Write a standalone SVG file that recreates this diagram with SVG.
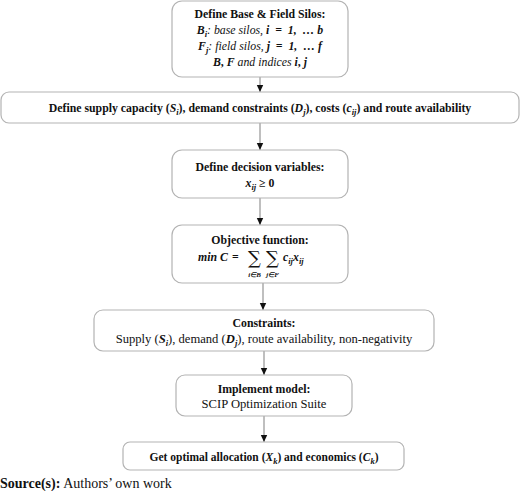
<svg xmlns="http://www.w3.org/2000/svg" width="520" height="491" viewBox="0 0 520 491">
<defs>
<marker id="ah" markerWidth="8" markerHeight="8" refX="7" refY="4" orient="auto" markerUnits="userSpaceOnUse">
<path d="M0,0.8 L7,4 L0,7.2 Z" fill="#111"/>
</marker>
<style>
.box{fill:#fff;stroke:#b3b3b3;stroke-width:1.2}
.t{font-family:"Liberation Serif",serif;font-size:11.8px;fill:#111;text-anchor:middle}
.r{font-size:12.6px}
.b{font-weight:bold}
.it{font-style:italic}
.mb{font-style:italic;font-weight:bold}
.sub{font-size:8.5px;font-style:italic;font-weight:bold}
.ss{font-size:7px}
.sig{font-family:"DejaVu Serif",serif;font-size:18px;fill:#111}
.con{stroke:#8a8a8a;stroke-width:1.1;fill:none;marker-end:url(#ah)}
</style>
</defs>
<rect width="520" height="491" fill="#fff"/>
<g id="connectors">
<line class="con" x1="260" y1="77" x2="260" y2="92"/>
<line class="con" x1="260" y1="123" x2="260" y2="150"/>
<line class="con" x1="260" y1="198" x2="260" y2="225"/>
<line class="con" x1="263" y1="283" x2="263" y2="310"/>
<line class="con" x1="264" y1="351" x2="264" y2="375"/>
<line class="con" x1="264" y1="416" x2="264" y2="442"/>
</g>
<g id="n1">
<rect class="box" x="172" y="1" width="176" height="76" rx="10"/>
<text class="t b" x="260" y="18">Define Base &amp; Field Silos:</text>
<text class="t" x="260" y="34"><tspan class="mb">B</tspan><tspan class="sub" dy="3">i</tspan><tspan class="it" dy="-3">: base silos, </tspan><tspan class="mb">i&#160;&#160;=&#160;&#160;1,&#160;&#160;…&#160;b</tspan></text>
<text class="t" x="260" y="50"><tspan class="mb">F</tspan><tspan class="sub" dy="3">j</tspan><tspan class="it" dy="-3">: field silos, </tspan><tspan class="mb">j&#160;&#160;=&#160;&#160;1,&#160;&#160;…&#160;f</tspan></text>
<text class="t" x="260" y="66"><tspan class="mb">B</tspan><tspan class="b">, </tspan><tspan class="mb">F</tspan><tspan class="it"> and indices </tspan><tspan class="mb">i</tspan><tspan class="b">, </tspan><tspan class="mb">j</tspan></text>
</g>
<g id="n2">
<rect class="box" x="1" y="92" width="518" height="31" rx="8"/>
<text class="t b" x="260" y="112">Define supply capacity (<tspan class="mb">S</tspan><tspan class="sub" dy="3">i</tspan><tspan dy="-3">), demand constraints (</tspan><tspan class="mb">D</tspan><tspan class="sub" dy="3">j</tspan><tspan dy="-3">), costs (</tspan><tspan class="mb">c</tspan><tspan class="sub" dy="3">ij</tspan><tspan dy="-3">) and route availability</tspan></text>
</g>
<g id="n3">
<rect class="box" x="172" y="150" width="176" height="48" rx="10"/>
<text class="t b" x="260" y="171">Define decision variables:</text>
<text class="t" x="260" y="187"><tspan class="mb">x</tspan><tspan class="sub" dy="3">ij</tspan><tspan class="b" dy="-3"> ≥ 0</tspan></text>
</g>
<g id="n4">
<rect class="box" x="172" y="225" width="176" height="58" rx="10"/>
<text class="t b" x="260" y="244">Objective function:</text>
<text class="t mb" x="198" y="261" style="text-anchor:start">min C</text>
<text class="t b" x="232" y="261" style="text-anchor:start">=</text>
<text class="sig" x="248" y="264">∑</text>
<text class="sig" x="266" y="264">∑</text>
<text class="t sub ss" x="254.5" y="277">i∈B</text>
<text class="t sub ss" x="272.5" y="277">j∈F</text>
<text class="t" x="283" y="261" style="text-anchor:start"><tspan class="mb">c</tspan><tspan class="sub" dy="3">ij</tspan><tspan class="mb" dy="-3">x</tspan><tspan class="sub" dy="3">ij</tspan></text>
</g>
<g id="n5">
<rect class="box" x="94" y="310" width="340" height="41" rx="9"/>
<text class="t b" x="264" y="327">Constraints:</text>
<text class="t r" x="264" y="343">Supply (<tspan class="mb">S</tspan><tspan class="sub" dy="3">i</tspan><tspan dy="-3">), demand (</tspan><tspan class="mb">D</tspan><tspan class="sub" dy="3">j</tspan><tspan dy="-3">), route availability, non-negativity</tspan></text>
</g>
<g id="n6">
<rect class="box" x="176" y="375" width="176" height="41" rx="9"/>
<text class="t b" x="264" y="393">Implement model:</text>
<text class="t r" x="264" y="408">SCIP Optimization Suite</text>
</g>
<g id="n7">
<rect class="box" x="123" y="442" width="281" height="28" rx="7"/>
<text class="t b" x="264" y="461" style="font-size:11.5px">Get optimal allocation (<tspan class="mb">X</tspan><tspan class="sub" dy="3">k</tspan><tspan dy="-3">) and economics (</tspan><tspan class="mb">C</tspan><tspan class="sub" dy="3">k</tspan><tspan dy="-3">)</tspan></text>
</g>
<text x="0" y="488" style="font-family:'Liberation Serif',serif;font-size:14px;fill:#111"><tspan font-weight="bold">Source(s):</tspan> Authors’ own work</text>
</svg>
